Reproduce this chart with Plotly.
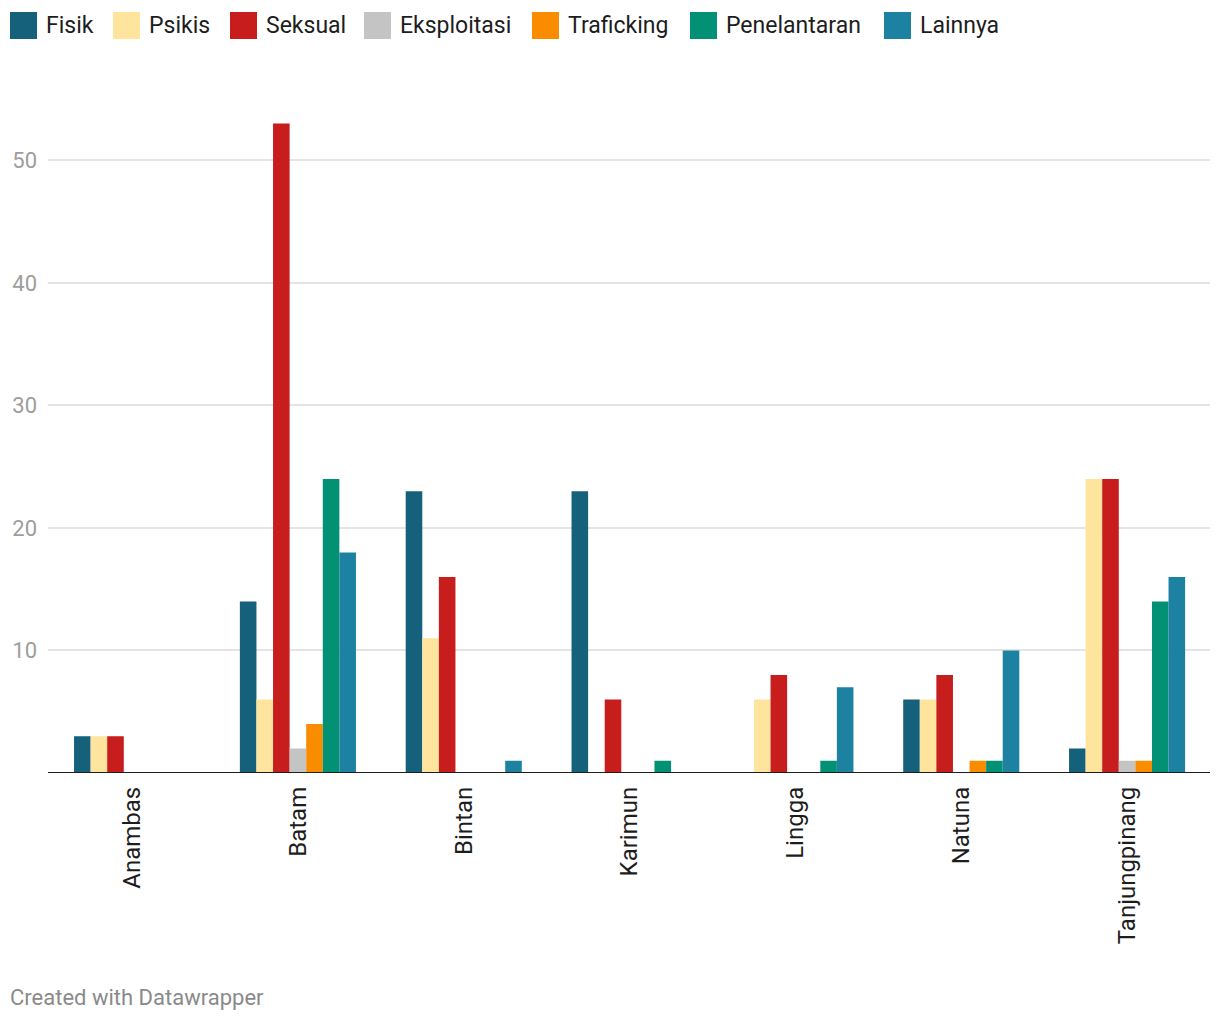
import plotly.graph_objects as go

regions = ["Anambas", "Batam", "Bintan", "Karimun", "Lingga", "Natuna", "Tanjungpinang"]
series_names = ["Fisik", "Psikis", "Seksual", "Eksploitasi", "Traficking", "Penelantaran", "Lainnya"]

fisik = [3, 14, 23, 23, 0, 6, 2]
psikis = [3, 6, 11, 0, 6, 6, 24]
seksual = [3, 53, 16, 6, 8, 8, 24]
eksploitasi = [0, 2, 0, 0, 0, 0, 1]
traficking = [0, 4, 0, 0, 0, 1, 1]
penelantaran = [0, 24, 0, 1, 1, 1, 14]
lainnya = [0, 18, 1, 0, 7, 10, 16]

y_ticks = [10, 20, 30, 40, 50]

series_values = [fisik, psikis, seksual, eksploitasi, traficking, penelantaran, lainnya]
colors = ["#15607a", "#fee49c", "#c71e1d", "#c4c4c4", "#fa8c00", "#039176", "#1d81a2"]

# page body has an 8px margin; work in figure coords = screen - 8
OFF = 8
W, H = 1212, 1012
ml, mr, mt, mb = 48 - OFF, 10, 99 - OFF, 247
PW, PH = W - ml - mr, H - mt - mb


def px(xs):
    return (xs - OFF - ml) / PW


def py(ys):
    return (H - mb - (ys - OFF)) / PH


fig = go.Figure()
for name, vals, col in zip(series_names, series_values, colors):
    fig.add_trace(go.Bar(
        x=regions, y=vals, name=name,
        marker=dict(color=col, line=dict(width=0)),
        showlegend=False,
        hovertemplate="%{x}: %{y}<extra>" + name + "</extra>",
    ))

# Manual legend (large square swatches like the reference)
legend_x = [10, 113, 230, 364, 532, 690, 884]
sw = 27
shapes = []
annotations = []
for lx, name, col in zip(legend_x, series_names, colors):
    shapes.append(dict(type="rect", xref="paper", yref="paper",
                       x0=px(lx), x1=px(lx + sw),
                       y0=py(39), y1=py(12),
                       fillcolor=col, line=dict(width=0), layer="above"))
    annotations.append(dict(xref="paper", yref="paper",
                            x=px(lx + sw + 7), y=py(26),
                            text=name, showarrow=False, xanchor="left", yanchor="middle",
                            font=dict(family="Roboto", size=23, color="#1d1d1d")))

annotations.append(dict(xref="paper", yref="paper",
                        x=px(8), y=py(997),
                        text="Created with Datawrapper", showarrow=False,
                        xanchor="left", yanchor="middle",
                        font=dict(family="Roboto", size=22, color="#8a8a8a")))

# Baseline
shapes.append(dict(type="line", xref="paper", yref="y", x0=0, x1=1, y0=0, y1=0,
                   line=dict(color="#1d1d1d", width=2), layer="above"))

fig.update_layout(
    width=W, height=H,
    margin=dict(l=ml, r=mr, t=mt, b=mb, autoexpand=False),
    paper_bgcolor="white", plot_bgcolor="white",
    barmode="group", bargap=0.3, bargroupgap=0,
    font=dict(family="Roboto", color="#1d1d1d"),
    shapes=shapes, annotations=annotations,
    xaxis=dict(
        range=[-0.507, 6.50], tickangle=-90, showgrid=False, zeroline=False,
        showline=False, ticks="", tickfont=dict(family="Roboto", size=24, color="#1d1d1d"),
        ticklabelstandoff=8, automargin=False,
    ),
    yaxis=dict(
        range=[0, 55], tickvals=y_ticks, showgrid=True, gridcolor="#e4e4e4", gridwidth=2,
        zeroline=False, showline=False, ticks="",
        tickfont=dict(family="Roboto", size=22, color="#9d9d9d"),
        ticklabelstandoff=10, automargin=False,
    ),
)

fig.write_html("out.html")
